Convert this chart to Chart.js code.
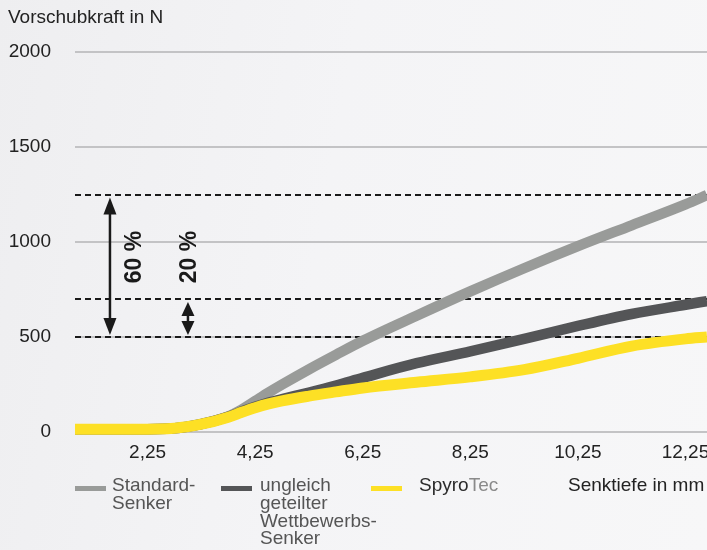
<!DOCTYPE html>
<html>
<head>
<meta charset="utf-8">
<script src="https://cdn.jsdelivr.net/npm/chart.js@4/dist/chart.umd.min.js"></script>
<style>
  html, body { margin: 0; padding: 0; }
  body {
    width: 707px; height: 550px; position: relative; overflow: hidden;
    background: linear-gradient(100deg, #eeeef0 0%, #f4f4f6 45%, #f7f7f8 100%);
    font-family: "Liberation Sans", Arial, Helvetica, sans-serif;
  }
  #wrap { position: absolute; left: 0; top: 0; width: 707px; height: 550px; }
  .txt { position: absolute; font-size: 19px; line-height: 17.7px; white-space: nowrap; }
  .sw { position: absolute; height: 5px; }
</style>
</head>
<body>
<div id="wrap"><canvas id="c" width="707" height="550"></canvas></div>
<div class="txt" style="left:8px; top:8px; color:#222;">Vorschubkraft in N</div>

<div class="sw" style="left:75px; top:486px; width:31px; background:#999b99;"></div>
<div class="txt" style="left:112px; top:476.3px; color:#555;">Standard-<br>Senker</div>

<div class="sw" style="left:221px; top:486px; width:31px; background:#545557;"></div>
<div class="txt" style="left:260px; top:476.3px; color:#555;">ungleich<br>geteilter<br>Wettbewerbs-<br>Senker</div>

<div class="sw" style="left:371px; top:485.5px; width:31px; height:5.5px; background:#fde025;"></div>
<div class="txt" style="left:419px; top:476.3px;"><span style="color:#2b2b2b">Spyro</span><span style="color:#8a8a8a">Tec</span></div>

<div class="txt" style="left:568px; top:476.3px; color:#222;">Senktiefe in mm</div>

<script>
// ---- data ----
const depth      = [0.9, 2.0, 2.75, 3.25, 3.75, 4.0, 4.25, 4.5, 4.75, 5.25, 5.75, 6.25, 7.25, 8.25, 9.25, 10.25, 11.25, 12.25, 12.65];
const standard   = [15, 15, 20, 43, 82, 118, 163, 208, 250, 330, 406, 480, 612, 740, 862, 978, 1088, 1198, 1247];
const competitor = [15, 15, 20, 42, 80, 108, 133, 155, 173, 208, 245, 285, 362, 424, 490, 558, 621, 670, 689];
const spyrotec   = [15, 15, 20, 41, 78, 104, 128, 148, 164, 189, 211, 232, 262, 290, 328, 388, 452, 490, 500];
const xTicks     = [2.25, 4.25, 6.25, 8.25, 10.25, 12.25];
const yTicks     = [0, 500, 1000, 1500, 2000];
const refLevels  = [1250, 700, 500];
const arrowX     = [1.55, 3.0];
const arrowFrom  = [1250, 700];
const arrowTo    = [500, 500];
const pctLabels  = ['60 %', '20 %'];
const pctX       = [2.0, 3.04];
const pctY       = [921, 921];

const pts = arr => depth.map((d, i) => ({ x: d, y: arr[i] }));

const annot = {
  id: 'annot',
  beforeDatasetsDraw(chart) {
    const { ctx, chartArea, scales: { x, y } } = chart;
    ctx.save();
    // dashed reference lines
    ctx.strokeStyle = '#1a1a1a';
    ctx.lineWidth = 2;
    ctx.setLineDash([6, 4]);
    refLevels.forEach(v => {
      const py = Math.round(y.getPixelForValue(v));
      ctx.beginPath();
      ctx.moveTo(chartArea.left, py);
      ctx.lineTo(chartArea.right, py);
      ctx.stroke();
    });
    ctx.setLineDash([]);
    // arrows
    ctx.fillStyle = '#1a1a1a';
    arrowX.forEach((ax, i) => {
      const px = x.getPixelForValue(ax);
      const top = y.getPixelForValue(arrowFrom[i]) + 3;
      const bot = y.getPixelForValue(arrowTo[i]) - 2;
      const hl = i === 0 ? 17 : 14, hw = 6.5;
      ctx.lineWidth = 2.5;
      ctx.beginPath();
      ctx.moveTo(px, top + hl - 2);
      ctx.lineTo(px, bot - hl + 2);
      ctx.stroke();
      ctx.beginPath();
      ctx.moveTo(px, top); ctx.lineTo(px - hw, top + hl); ctx.lineTo(px + hw, top + hl); ctx.closePath();
      ctx.fill();
      ctx.beginPath();
      ctx.moveTo(px, bot); ctx.lineTo(px - hw, bot - hl); ctx.lineTo(px + hw, bot - hl); ctx.closePath();
      ctx.fill();
    });
    // percentage labels
    ctx.font = 'bold 23px "Liberation Sans", Arial, sans-serif';
    ctx.textAlign = 'center';
    ctx.textBaseline = 'middle';
    pctLabels.forEach((t, i) => {
      ctx.save();
      ctx.translate(x.getPixelForValue(pctX[i]), y.getPixelForValue(pctY[i]));
      ctx.rotate(-Math.PI / 2);
      ctx.fillText(t, 0, 0);
      ctx.restore();
    });
    ctx.restore();
  }
};

const lineDs = (label, data, color, w) => ({
  label, data: pts(data), borderColor: color, backgroundColor: color,
  borderWidth: w, pointRadius: 0, cubicInterpolationMode: 'monotone',
  borderCapStyle: 'butt', borderJoinStyle: 'round', clip: false, fill: false
});

new Chart(document.getElementById('c'), {
  type: 'line',
  data: {
    datasets: [
      lineDs('SpyroTec', spyrotec, '#fde025', 11),
      lineDs('ungleich geteilter Wettbewerbs-Senker', competitor, '#545557', 10.5),
      lineDs('Standard-Senker', standard, '#999b99', 10.5)
    ]
  },
  options: {
    responsive: false,
    animation: false,
    events: [],
    layout: { padding: { top: 52, bottom: 68, left: 0, right: 0 } },
    plugins: { legend: { display: false }, tooltip: { enabled: false } },
    scales: {
      x: {
        type: 'linear', min: depth[0], max: depth[depth.length - 1],
        afterBuildTicks: s => { s.ticks = xTicks.map(v => ({ value: v })); },
        afterFit: s => { s.height = 50; s.paddingLeft = 0; s.paddingRight = 0; },
        grid: { display: false }, border: { display: false },
        ticks: {
          padding: 1, color: '#222', maxRotation: 0, autoSkip: false,
          font: { family: '"Liberation Sans", Arial, sans-serif', size: 19 },
          callback: v => v.toFixed(2).replace('.', ',')
        }
      },
      y: {
        min: 0, max: 2000,
        afterBuildTicks: s => { s.ticks = yTicks.map(v => ({ value: v })); },
        afterFit: s => { s.width = 75; },
        grid: { color: '#c3c3c5', lineWidth: 2, drawTicks: false },
        border: { display: false },
        ticks: {
          padding: 24, color: '#222',
          font: { family: '"Liberation Sans", Arial, sans-serif', size: 19 },
          callback: v => String(v)
        }
      }
    }
  },
  plugins: [annot]
});
</script>
</body>
</html>
